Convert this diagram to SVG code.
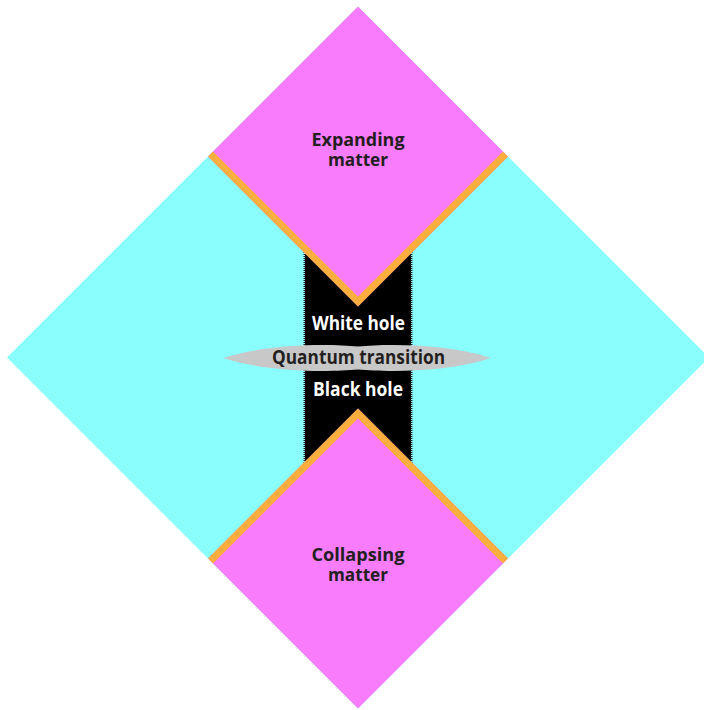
<svg xmlns="http://www.w3.org/2000/svg" width="704" height="710" viewBox="0 0 704 710">
  <style>
    .lbl { font-family: "Open Sans", "Liberation Sans", sans-serif; font-weight: 700; text-anchor: middle; }
    .dark { fill: #231f20; font-size: 18px; }
    .light { fill: #ffffff; font-size: 19.5px; }
    .magenta { fill: #f87cfc; }
    .edge { fill: none; stroke: #231f20; stroke-width: 2; stroke-dasharray: 1 1; }
    .horizon { fill: none; stroke: #f9ae3d; stroke-width: 14; stroke-linejoin: miter; }
  </style>
  <defs>
    <clipPath id="clipTop"><polygon points="358,6.5 508,156.5 358,306.5 208,156.5"/></clipPath>
    <clipPath id="clipBottom"><polygon points="358,408.5 508,558.5 358,708.5 208,558.5"/></clipPath>
  </defs>

  <g id="spacetime">
    <polygon points="7,357.5 358,6.5 709,357.5 358,708.5" fill="#8afefc"/>
  </g>

  <g id="hole-region">
    <rect x="305" y="240" width="106" height="235" fill="#000000"/>
    <line class="edge" x1="304.5" y1="240" x2="304.5" y2="475"/>
    <line class="edge" x1="411.5" y1="240" x2="411.5" y2="475"/>
  </g>

  <g id="expanding-matter">
    <polygon class="magenta" points="358,6.5 508,156.5 358,306.5 208,156.5"/>
    <polyline class="horizon" clip-path="url(#clipTop)" points="208,156.5 358,306.5 508,156.5"/>
    <text class="lbl dark" x="358" y="145.5" textLength="93" lengthAdjust="spacingAndGlyphs">Expanding</text>
    <text class="lbl dark" x="358" y="166" textLength="60" lengthAdjust="spacingAndGlyphs">matter</text>
  </g>

  <g id="collapsing-matter">
    <polygon class="magenta" points="358,408.5 508,558.5 358,708.5 208,558.5"/>
    <polyline class="horizon" clip-path="url(#clipBottom)" points="208,558.5 358,408.5 508,558.5"/>
    <text class="lbl dark" x="358" y="560.5" textLength="93" lengthAdjust="spacingAndGlyphs">Collapsing</text>
    <text class="lbl dark" x="358" y="581" textLength="60" lengthAdjust="spacingAndGlyphs">matter</text>
  </g>

  <g id="white-hole">
    <text class="lbl light" x="358.5" y="330" textLength="93" lengthAdjust="spacingAndGlyphs">White hole</text>
  </g>

  <g id="black-hole">
    <text class="lbl light" x="358" y="396" textLength="90" lengthAdjust="spacingAndGlyphs">Black hole</text>
  </g>

  <g id="quantum-transition">
    <path d="M223,358 C270,343 330,344 358,346.5 C386,344 446,343 491,358 C446,373 386,372 358,369.5 C330,372 270,373 223,358 Z" fill="#c8c8c8"/>
    <text class="lbl" x="358.5" y="364" textLength="173" lengthAdjust="spacingAndGlyphs" style="fill:#231f20;font-size:19.5px">Quantum transition</text>
  </g>

  <g id="connectors"/>
</svg>
